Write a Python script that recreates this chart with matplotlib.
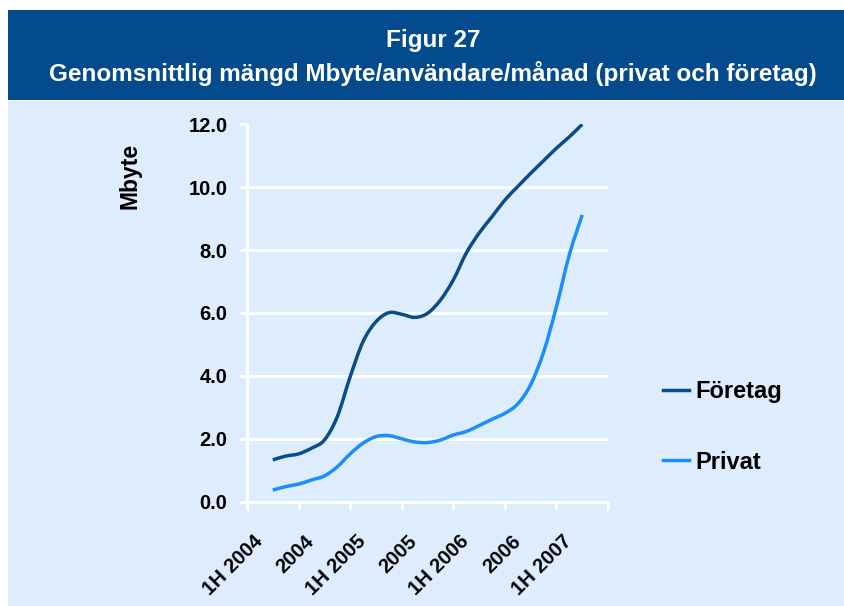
import numpy as np
import matplotlib
matplotlib.use("Agg")
import matplotlib.pyplot as plt
from matplotlib.path import Path
from matplotlib.patches import PathPatch, Rectangle
from matplotlib.lines import Line2D
from matplotlib.transforms import offset_copy, blended_transform_factory

plt.rcParams['font.family'] = ['Liberation Sans', 'DejaVu Sans']
plt.rcParams['font.weight'] = 'bold'

# Data (quarter-period steps between the half-year labels)
period_labels = ['1H 2004', '2004', '1H 2005', '2005', '1H 2006', '2006', '1H 2007']
positions = np.arange(0, 6.01, 0.25)
foretag = [1.33, 1.45, 1.52, 1.70, 1.96, 2.70, 3.97, 5.09, 5.72, 6.01, 5.96, 5.86, 5.99,
           6.41, 7.05, 7.90, 8.54, 9.06, 9.59, 10.02, 10.44, 10.84, 11.24, 11.60, 12.0]
privat = [0.37, 0.48, 0.56, 0.69, 0.82, 1.11, 1.52, 1.86, 2.07, 2.10, 2.00, 1.90, 1.88,
          1.96, 2.12, 2.23, 2.42, 2.62, 2.81, 3.11, 3.72, 4.75, 6.20, 7.85, 9.12]
yticks = [0.0, 2.0, 4.0, 6.0, 8.0, 10.0, 12.0]

banner_color = '#044b8d'
bg_color = '#ddedfd'
foretag_color = '#0a4c8a'
privat_color = '#1b8dff'


def smooth_path(xs, ys):
    # Catmull-Rom style bezier, like Excel's "smoothed line"
    pts = np.column_stack([xs, ys])
    n = len(pts)
    verts = [pts[0]]
    codes = [Path.MOVETO]
    for i in range(n - 1):
        p0 = pts[i - 1] if i > 0 else pts[i]
        p1 = pts[i]
        p2 = pts[i + 1]
        p3 = pts[i + 2] if i + 2 < n else pts[i + 1]
        c1 = p1 + (p2 - p0) / 6.0
        c2 = p2 - (p3 - p1) / 6.0
        verts += [c1, c2, p2]
        codes += [Path.CURVE4] * 3
    return Path(verts, codes)


fig = plt.figure(figsize=(8.44, 6.06), dpi=100, facecolor='white')
W, H = 844, 606

# background blocks
fig.patches.append(Rectangle((8 / W, 0), 1 - 8 / W, 1 - 101 / H, transform=fig.transFigure,
                             facecolor=bg_color, edgecolor='none', zorder=-5))
fig.patches.append(Rectangle((8 / W, 1 - 100 / H), 1 - 8 / W, 90 / H, transform=fig.transFigure,
                             facecolor=banner_color, edgecolor='none', zorder=-5))
fig.text(433 / W, 1 - 40 / H, 'Figur 27', color='white', fontsize=17.5, fontweight='bold',
         ha='center', va='center')
fig.text(433 / W, 1 - 73 / H, 'Genomsnittlig mängd Mbyte/användare/månad (privat och företag)',
         color='white', fontsize=17.5, fontweight='bold', ha='center', va='center')

ax = fig.add_axes([247 / W, 1 - 501.7 / H, (608 - 247) / W, (501.7 - 124.3) / H])
ax.patch.set_alpha(0)

ax.add_patch(PathPatch(smooth_path(positions, foretag), facecolor='none',
                       edgecolor=foretag_color, lw=2.5, capstyle='butt', zorder=3))
ax.add_patch(PathPatch(smooth_path(positions, privat), facecolor='none',
                       edgecolor=privat_color, lw=2.5, capstyle='butt', zorder=3))

ax.set_xlim(-0.5, len(period_labels) - 0.5)
ax.set_ylim(0, 12)

ax.set_yticks(yticks)
ax.set_yticklabels(['%.1f' % v for v in yticks], fontsize=14.5, fontweight='bold')
ax.tick_params(axis='y', colors='white', length=6, width=2, pad=8, labelcolor='black')
for v in yticks[1:-1]:
    ax.axhline(v, color='white', lw=2, zorder=1)

ax.set_xticks(np.arange(-0.5, len(period_labels), 1.0))
ax.set_xticklabels([])
ax.tick_params(axis='x', colors='white', length=6, width=2)

trans = blended_transform_factory(ax.transData, ax.transAxes)
for i, lab in enumerate(period_labels):
    t = offset_copy(trans, fig=fig, x=-13, y=-37, units='dots')
    ax.text(i, 0, lab, transform=t, rotation=45, rotation_mode='anchor',
            ha='right', va='center', fontsize=14.5, fontweight='bold')

for side in ['top', 'right']:
    ax.spines[side].set_visible(False)
for side in ['left', 'bottom']:
    ax.spines[side].set_color('white')
    ax.spines[side].set_linewidth(2)

fig.text(130 / W, 1 - 176 / H, 'Mbyte', rotation=90, fontsize=16.5, fontweight='bold',
         ha='center', va='center')

handles = [Line2D([], [], color=foretag_color, lw=2.5),
           Line2D([], [], color=privat_color, lw=2.5)]
fig.legend(handles, ['Företag', 'Privat'], loc='center left',
           bbox_to_anchor=(642 / W, 1 - 427 / H), frameon=False,
           prop={'weight': 'bold', 'size': 17}, handlelength=1.1, handletextpad=0.25,
           labelspacing=2.0)

fig.savefig('out.png', dpi=100, facecolor='white')
